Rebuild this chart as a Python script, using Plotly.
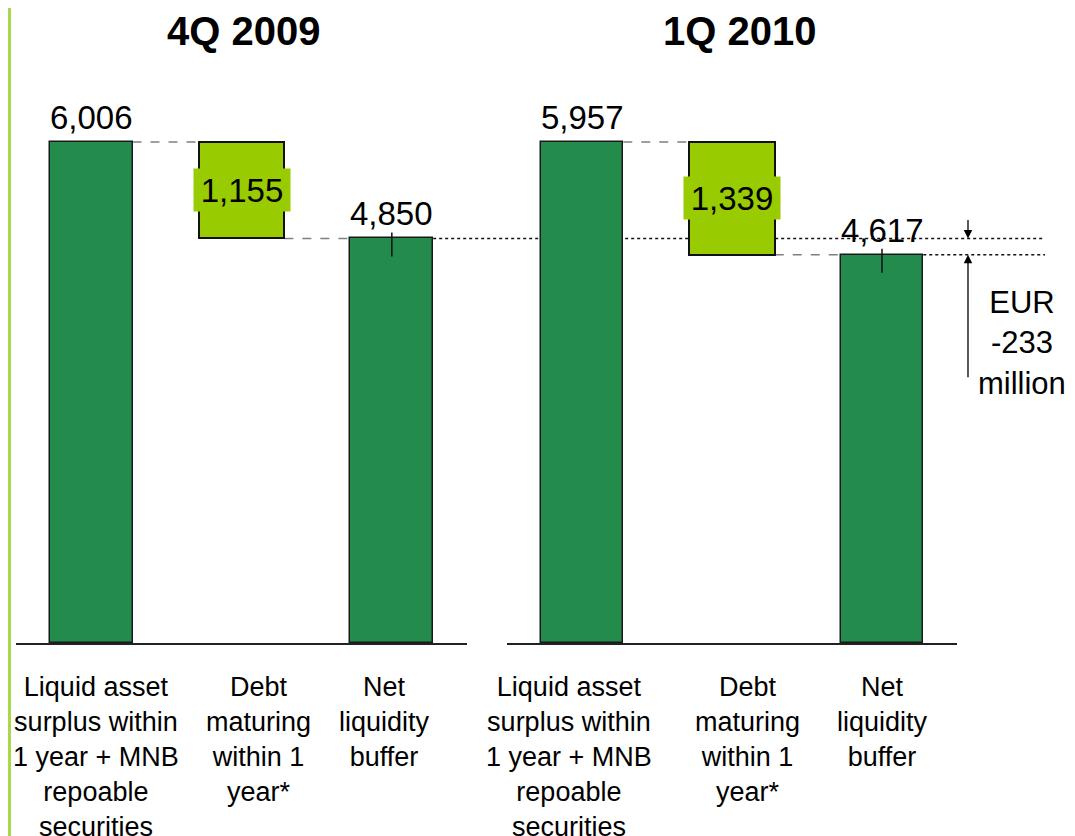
import plotly.graph_objects as go

# ---------------- data ----------------
periods = ["4Q 2009", "1Q 2010"]
categories = [
    "Liquid asset<br>surplus within<br>1 year + MNB<br>repoable<br>securities",
    "Debt<br>maturing<br>within 1<br>year*",
    "Net<br>liquidity<br>buffer",
]
liquid_assets = [6006, 5957]
debt_maturing = [1155, 1339]
net_buffer = [4850, 4617]
change_text = "EUR<br>-233<br>million"

# ---------------- style ----------------
OFF = 8                      # page body margin
W, H = 1075 - OFF, 836 - OFF
DARK = "#238B4B"
LIGHT = "#99CC00"
STRIPE = "#A8D84E"
FONT = "Arial, Liberation Sans, sans-serif"

def px_x(p):
    return (p - OFF) / W

def px_y(p):
    return (H - (p - OFF)) / H

x_domains = [[px_x(16), px_x(467)], [px_x(507), px_x(957)]]
y_bottom_px, y_top_px, bar_top_px = 643, 90, 142
y_domain = [px_y(y_bottom_px), px_y(y_top_px)]
widths = [0.55, 0.57, 0.55]
label_shift = [[5, 17, -7], [-13, 15, 0]]

fig = go.Figure()
shapes, annotations = [], []

for i, period in enumerate(periods):
    xa = "x" if i == 0 else "x2"
    ya = "y" if i == 0 else "y2"
    top = liquid_assets[i]
    net = net_buffer[i]
    debt = debt_maturing[i]
    # each panel scaled so that the first bar reaches the same height
    ymax = top * (y_bottom_px - y_top_px) / (y_bottom_px - bar_top_px)

    fig.add_trace(go.Bar(
        x=[0, 2], y=[top, net], base=[0, 0], width=[widths[0], widths[2]],
        marker=dict(color=DARK, line=dict(color="#1a1a1a", width=1.5)),
        xaxis=xa, yaxis=ya, showlegend=False, hoverinfo="skip"))
    fig.add_trace(go.Bar(
        x=[1], y=[top - net], base=[net], width=[widths[1]],
        marker=dict(color=LIGHT, line=dict(color="#111111", width=2)),
        xaxis=xa, yaxis=ya, showlegend=False, hoverinfo="skip"))

    axis_kw = dict(domain=x_domains[i], range=[-0.5, 2.5], showgrid=False,
                   zeroline=False, showticklabels=False, ticks="",
                   showline=True, linecolor="#222222", linewidth=2,
                   fixedrange=True)
    yaxis_kw = dict(domain=y_domain, range=[0, ymax], visible=False,
                    fixedrange=True)
    if i == 0:
        fig.update_layout(xaxis=dict(anchor="y", **axis_kw),
                          yaxis=dict(anchor="x", **yaxis_kw))
    else:
        fig.update_layout(xaxis2=dict(anchor="y2", **axis_kw),
                          yaxis2=dict(anchor="x2", **yaxis_kw))

    # dashed connectors
    shapes.append(dict(type="line", xref=xa, yref=ya,
                       x0=0 + widths[0] / 2, x1=1 - widths[1] / 2, y0=top, y1=top,
                       line=dict(color="#808080", width=1.5, dash="dash"), layer="below"))
    shapes.append(dict(type="line", xref=xa, yref=ya,
                       x0=1 + widths[1] / 2, x1=2 - widths[2] / 2, y0=net, y1=net,
                       line=dict(color="#808080", width=1.5, dash="dash"), layer="below"))
    # small tick on the net bar
    shapes.append(dict(type="line", xref=xa, yref=ya, ysizemode="pixel", yanchor=net,
                       x0=2, x1=2, y0=6, y1=-18,
                       line=dict(color="#111111", width=1.5)))

    # dotted reference line from net bar to right edge
    d0, d1 = x_domains[i]
    xr = d0 + (2 + widths[2] / 2 + 0.5) / 3 * (d1 - d0)
    shapes.append(dict(type="line", xref="paper", yref=ya,
                       x0=xr, x1=px_x(1045), y0=net, y1=net,
                       line=dict(color="#111111", width=1.5, dash="dot"), layer="below"))

    # title
    cx = [243, 740][i]
    annotations.append(dict(xref="paper", yref="paper", x=px_x(cx), y=px_y(31),
                            text="<b>" + period + "</b>", showarrow=False,
                            xanchor="center", yanchor="middle",
                            font=dict(family=FONT, size=40, color="#000000")))

    # value labels
    for xi, val in [(0, top), (2, net)]:
        annotations.append(dict(xref=xa, yref=ya, x=xi, y=val, text=f"{val:,}",
                                showarrow=False, xanchor="center", yanchor="bottom",
                                yshift=4, font=dict(family=FONT, size=33, color="#000000")))
    annotations.append(dict(xref=xa, yref=ya, x=1, y=net + (top - net) / 2,
                            text=f"{debt:,}", showarrow=False, xanchor="center",
                            yanchor="middle", bgcolor=LIGHT, borderpad=2,
                            width=92, height=38,
                            font=dict(family=FONT, size=33, color="#000000")))

    # category labels
    for xi, cat in enumerate(categories):
        annotations.append(dict(xref=xa, yref="paper", x=xi, y=px_y(670), text=cat,
                                showarrow=False, xanchor="center", yanchor="top",
                                xshift=label_shift[i][xi], align="center",
                                font=dict(family=FONT, size=27, color="#000000")))

# arrows showing the change
annotations.append(dict(xref="paper", yref="y", x=px_x(968), y=net_buffer[0],
                        ax=0, ay=-20, text="", showarrow=True, arrowhead=2,
                        arrowsize=1.3, arrowwidth=1.3, arrowcolor="#000000"))
annotations.append(dict(xref="paper", yref="y2", x=px_x(968), y=net_buffer[1],
                        ax=0, ay=124, text="", showarrow=True, arrowhead=2,
                        arrowsize=1.3, arrowwidth=1.3, arrowcolor="#000000"))
annotations.append(dict(xref="paper", yref="paper", x=px_x(1022), y=px_y(343),
                        text=change_text, showarrow=False, xanchor="center",
                        yanchor="middle", align="center",
                        font=dict(family=FONT, size=31, color="#000000")))

# left decorative stripe
shapes.append(dict(type="rect", xref="paper", yref="paper", x0=0, x1=px_x(11),
                   y0=0, y1=1, fillcolor=STRIPE, line=dict(width=0), layer="below"))

fig.update_layout(
    width=W, height=H, margin=dict(l=0, r=0, t=0, b=0),
    paper_bgcolor="white", plot_bgcolor="white",
    barmode="overlay", bargap=0,
    shapes=shapes, annotations=annotations,
    font=dict(family=FONT),
)

fig.write_html("out.html")
